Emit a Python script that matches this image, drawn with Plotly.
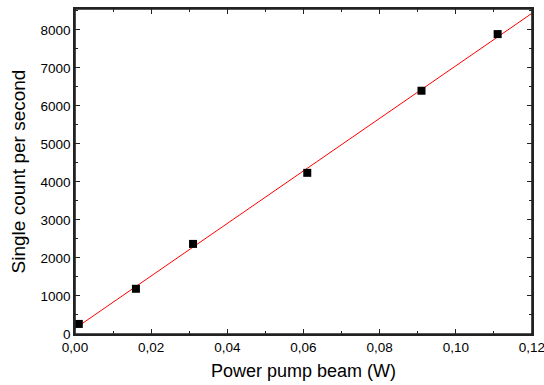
import plotly.graph_objects as go

power_w = [0.001, 0.016, 0.031, 0.061, 0.091, 0.111]
counts = [265, 1190, 2370, 4240, 6400, 7890]
fit_x = [0.0, 0.12]
fit_y = [145, 8436]

x_ticks = [0.0, 0.02, 0.04, 0.06, 0.08, 0.10, 0.12]
y_ticks = [0, 1000, 2000, 3000, 4000, 5000, 6000, 7000, 8000]

FONT = "Liberation Sans, Arial"
X_RANGE = [0, 0.12002]
Y_RANGE = [0, 8550]

fig = go.Figure()
fig.add_trace(go.Scatter(x=fit_x, y=fit_y, mode="lines",
                         line=dict(color="#ff0000", width=1), showlegend=False))
fig.add_trace(go.Scatter(x=power_w, y=counts, mode="markers",
                         marker=dict(symbol="square", size=8, color="black"),
                         showlegend=False))
# invisible trace to anchor the frame axes (top / right)
fig.add_trace(go.Scatter(x=fit_x, y=fit_y, mode="lines", xaxis="x2", yaxis="y2",
                         line=dict(color="rgba(0,0,0,0)", width=0),
                         hoverinfo="skip", showlegend=False))

axis_common = dict(showline=True, linecolor="#222", linewidth=1.6,
                   ticks="inside", ticklen=5, tickwidth=1.3, tickcolor="#222",
                   showgrid=False, zeroline=False, ticklabeloverflow="allow",
                   tickfont=dict(family=FONT, size=13.5, color="black"))
x_minor = dict(ticks="inside", ticklen=3, dtick=0.01, tickcolor="#222", tickwidth=1.2)
y_minor = dict(ticks="inside", ticklen=3, dtick=500, tickcolor="#222", tickwidth=1.2)

fig.update_layout(
    xaxis=dict(range=X_RANGE, tickvals=x_ticks, tickformat=".2f", minor=x_minor,
               title=dict(text="Power pump beam (W)", standoff=10,
                          font=dict(family=FONT, size=18, color="black")),
               **axis_common),
    yaxis=dict(range=Y_RANGE, tickvals=y_ticks, tickformat="d", minor=y_minor,
               title=dict(text="Single count per second", standoff=10,
                          font=dict(family=FONT, size=19, color="black")),
               **axis_common),
    xaxis2=dict(range=X_RANGE, tickvals=x_ticks, minor=x_minor, overlaying="x",
                side="top", anchor="y2", showticklabels=False, **axis_common),
    yaxis2=dict(range=Y_RANGE, tickvals=y_ticks, minor=y_minor, overlaying="y",
                side="right", anchor="x2", showticklabels=False, **axis_common),
)

fig.add_shape(type="rect", xref="paper", yref="paper", x0=0, x1=1, y0=0, y1=1,
              line=dict(color="#222", width=1.6), fillcolor="rgba(0,0,0,0)", layer="above")

fig.update_layout(width=544, height=385, separators=",.",
                  margin=dict(l=75, r=12, t=9, b=51, autoexpand=False),
                  plot_bgcolor="white", paper_bgcolor="white")

fig.write_html("out.html", config={"displayModeBar": False},
               post_script="document.body.style.margin='0';"
                           "document.body.style.overflow='hidden';"
                           "document.documentElement.style.overflow='hidden';")
